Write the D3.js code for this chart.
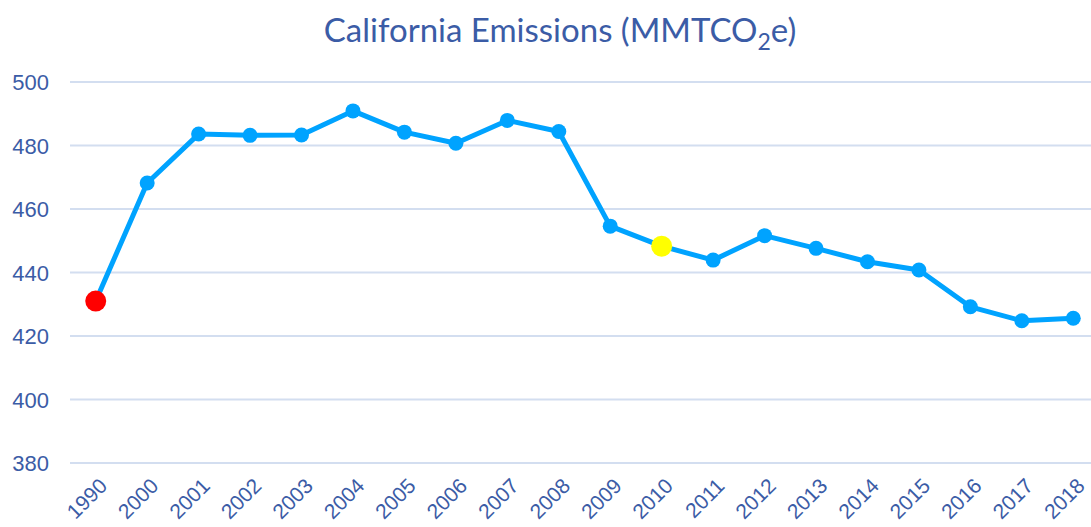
<!DOCTYPE html>
<html>
<head>
<meta charset="utf-8">
<script src="https://cdn.jsdelivr.net/npm/d3@7"></script>
<style>
  body { margin: 0; background: #fff; }
  svg { font-family: "Lato", "Noto Sans", sans-serif; }
</style>
</head>
<body>
<svg id="chart" width="1091" height="527"></svg>
<script>
var years = ["1990", "2000", "2001", "2002", "2003", "2004", "2005", "2006", "2007", "2008",
             "2009", "2010", "2011", "2012", "2013", "2014", "2015", "2016", "2017", "2018"];
var emissions = [431.0, 468.2, 483.6, 483.2, 483.3, 490.9, 484.2, 480.7, 487.9, 484.4,
                 454.6, 448.3, 443.9, 451.6, 447.6, 443.4, 440.8, 429.2, 424.8, 425.6];
var yTicks = [380, 400, 420, 440, 460, 480, 500];
var highlights = {"1990": "#ff0000", "2010": "#ffff00"};

var w = 1091, h = 527;
var pad_left = 70, pad_right = 1099, pad_top = 82, pad_bottom = 463;
var text_color = "#3b5ca6";

var data = years.map(function(d, i) { return {x: d, y: emissions[i]}; });

var xScale = d3.scalePoint()
    .domain(years)
    .range([pad_left, pad_right])
    .padding(0.5);

var yScale = d3.scaleLinear()
    .domain([380, 500])
    .range([pad_bottom, pad_top]);

var svg = d3.select("#chart");

//Gridlines
svg.append("g")
    .selectAll("line")
    .data(yTicks)
    .enter()
    .append("line")
    .attr("x1", pad_left)
    .attr("x2", w)
    .attr("y1", function(d) { return yScale(d); })
    .attr("y2", function(d) { return yScale(d); })
    .style("stroke", "#d3def0")
    .style("stroke-width", 2);

//Y axis
var yAxis = d3.axisLeft(yScale).tickValues(yTicks).tickSize(0).tickPadding(0);
var gy = svg.append("g")
    .attr("class", "y axis")
    .attr("transform", "translate(49,0)")
    .call(yAxis);
gy.select(".domain").remove();
gy.selectAll("text")
    .attr("fill", text_color)
    .attr("font-size", "22px")
    .attr("dy", "0.35em");

//X axis
var xAxis = d3.axisBottom(xScale).tickSize(0).tickPadding(0);
var gx = svg.append("g")
    .attr("class", "x axis")
    .attr("transform", "translate(0,482)")
    .call(xAxis);
gx.select(".domain").remove();
gx.selectAll("text")
    .attr("fill", text_color)
    .attr("font-size", "21px")
    .attr("text-anchor", "end")
    .attr("dy", "0.35em")
    .attr("transform", "translate(7,0) rotate(-45)");

//Title
var title = svg.append("text")
    .attr("x", 560)
    .attr("y", 42)
    .attr("text-anchor", "middle")
    .attr("fill", text_color)
    .attr("font-size", "33px")
    .text("California Emissions (MMTCO");
title.append("tspan")
    .attr("font-size", "23px")
    .attr("dy", "8")
    .text("2");
title.append("tspan")
    .attr("dy", "-8")
    .text("e)");

//Line
var line = d3.line()
    .x(function(d) { return xScale(d.x); })
    .y(function(d) { return yScale(d.y); });

svg.append("path")
    .datum(data)
    .attr("d", line)
    .attr("fill", "none")
    .style("stroke", "#00a3ff")
    .style("stroke-width", 5)
    .style("stroke-linejoin", "round");

//Points
svg.selectAll("circle")
    .data(data)
    .enter()
    .append("circle")
    .attr("cx", function(d) { return xScale(d.x); })
    .attr("cy", function(d) { return yScale(d.y); })
    .attr("r", function(d) { return highlights[d.x] ? 10.5 : 7.5; })
    .attr("fill", function(d) { return highlights[d.x] || "#00a3ff"; });
</script>
</body>
</html>
